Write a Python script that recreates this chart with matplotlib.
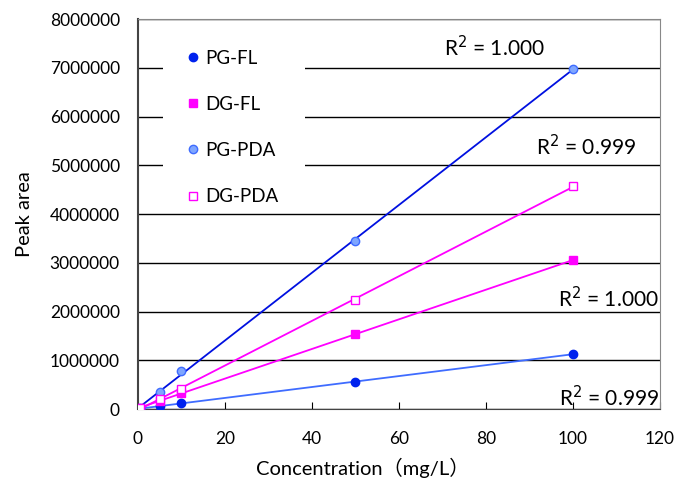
import numpy as np
import matplotlib.pyplot as plt
from matplotlib.patches import Rectangle

# ---------------------------------------------------------------
# Data (concentration in mg/L)
# ---------------------------------------------------------------
conc = [0.5, 5, 10, 50, 100]

pg_fl  = [10000, 60000, 120000, 550000, 1130000]
dg_fl  = [20000, 165000, 330000, 1545000, 3050000]
pg_pda = [20000, 350000, 780000, 3450000, 6980000]
dg_pda = [20000, 210000, 420000, 2240000, 4570000]

r2_labels = ["R$^2$ = 0.999", "R$^2$ = 1.000", "R$^2$ = 1.000", "R$^2$ = 0.999"]

x_ticks = [0, 20, 40, 60, 80, 100, 120]
y_ticks = [0, 1000000, 2000000, 3000000, 4000000, 5000000, 6000000, 7000000, 8000000]

plt.rcParams["font.family"] = ["Lato", "Noto Sans CJK JP", "DejaVu Sans"]

fig = plt.figure(figsize=(6.79, 4.90), dpi=100)
ax = fig.add_axes([0.2032, 0.1653, 0.7688, 0.7959])

# series: (values, marker, face, edge, line colour, label)
series = [
    (pg_fl,  "o", "#0022ee", "#0022ee", "#3f6cff", "PG-FL"),
    (dg_fl,  "s", "#ff00ff", "#ff00ff", "#ff00ff", "DG-FL"),
    (pg_pda, "o", "#7fa6ff", "#3f6cff", "#0010e0", "PG-PDA"),
    (dg_pda, "s", "white",   "#ff00ff", "#ff00ff", "DG-PDA"),
]

handles = []
xs = np.array(conc)
for vals, mk, fc, ec, lc, lab in series:
    k, b = np.polyfit(xs, vals, 1)
    ax.plot([xs[0], xs[-1]], [k * xs[0] + b, k * xs[-1] + b], color=lc, lw=1.3, zorder=3)
    h, = ax.plot(conc, vals, ls="none", marker=mk, ms=6 if mk == "o" else 5.5,
                 mfc=fc, mec=ec, mew=1.0, zorder=4, label=lab)
    handles.append(h)

ax.set_xlim(0, 120)
ax.set_ylim(0, 8000000)
ax.set_xticks(x_ticks)
ax.set_yticks(y_ticks)
ax.set_yticklabels([str(v) for v in y_ticks])
ax.tick_params(axis="x", direction="in", length=5, pad=16, labelsize=12.5)
ax.tick_params(axis="y", direction="in", length=0, pad=13, labelsize=12.5)

ax.yaxis.grid(True, color="black", lw=1.0)
ax.set_axisbelow(True)
for s in ["top", "right"]:
    ax.spines[s].set_color("#888888")
ax.spines["left"].set_color("#444444")
ax.spines["left"].set_linewidth(1.5)
ax.spines["bottom"].set_color("#444444")

# white box behind the legend hides the gridlines
ax.add_patch(Rectangle((0.048, 0.52), 0.272, 0.46, transform=ax.transAxes,
                       facecolor="white", edgecolor="none", zorder=1.5))
leg = ax.legend(handles=handles, loc="upper left", bbox_to_anchor=(0.08, 0.94),
                frameon=False, fontsize=13.5, labelspacing=1.55, handlelength=0.6,
                handletextpad=0.35, borderaxespad=0)
leg.set_zorder(5)

# R^2 annotations
ax.text(93.6, 7240000, r2_labels[1], ha="right", va="baseline", fontsize=15)
ax.text(114.5, 5210000, r2_labels[3], ha="right", va="baseline", fontsize=15)
ax.text(119.8, 2090000, r2_labels[2], ha="right", va="baseline", fontsize=15)
ax.text(119.8, 60000, r2_labels[0], ha="right", va="baseline", fontsize=15)

ax.set_xlabel("Concentration（mg/L）", fontsize=14.5, labelpad=8)
ax.xaxis.set_label_coords(0.43, -0.125)
ax.set_ylabel("Peak area", fontsize=14.5, labelpad=12)

fig.savefig("out.png", dpi=100)
